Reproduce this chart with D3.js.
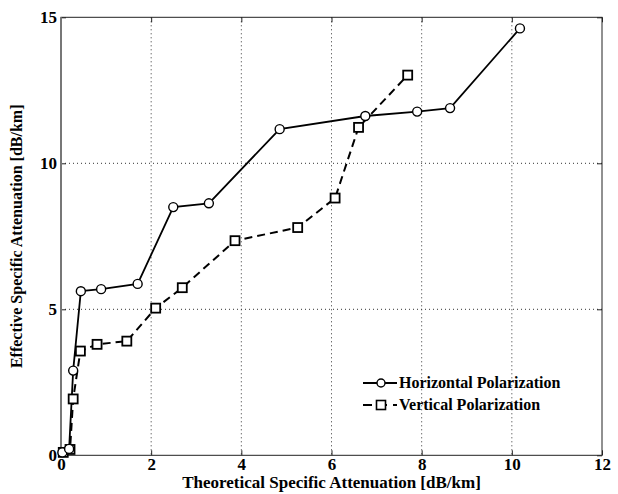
<!DOCTYPE html>
<html><head><meta charset="utf-8">
<script src="https://cdn.jsdelivr.net/npm/d3@7"></script>
<style>body{margin:0;background:#fff}svg{display:block}</style>
</head><body><svg id="c" width="618" height="494"></svg>
<script>
const xTicks=[0,2,4,6,8,10,12];
const yTicks=[0,5,10,15];
const horizX=[0.03,0.18,0.27,0.44,0.89,1.70,2.49,3.28,4.85,6.75,7.90,8.63,10.18];
const horizY=[0.10,0.22,2.90,5.62,5.69,5.87,8.50,8.63,11.17,11.62,11.77,11.89,14.62];
const vertX=[0.05,0.20,0.27,0.43,0.80,1.46,2.10,2.69,3.86,5.25,6.08,6.60,7.69];
const vertY=[0.10,0.20,1.93,3.57,3.80,3.91,5.04,5.74,7.35,7.80,8.81,11.23,13.02];
const seriesNames=["Horizontal Polarization","Vertical Polarization"];
const xLabel="Theoretical Specific Attenuation [dB/km]";
const yLabel="Effective Specific Attenuation [dB/km]";

const svg=d3.select("#c");
const L=61,R=602,T=17.3,B=455.3;
const x=d3.scaleLinear().domain([0,12]).range([L,R]);
const y=d3.scaleLinear().domain([0,15]).range([B,T]);
const font='"Liberation Serif","Times New Roman",serif';

// grid
const g=svg.append("g");
xTicks.slice(1,-1).forEach(t=>g.append("line").attr("x1",x(t)).attr("x2",x(t)).attr("y1",T).attr("y2",B)
  .attr("stroke","#333").attr("stroke-width",1).attr("stroke-dasharray","1,3"));
yTicks.slice(1,-1).forEach(t=>g.append("line").attr("y1",y(t)).attr("y2",y(t)).attr("x1",L).attr("x2",R)
  .attr("stroke","#333").attr("stroke-width",1).attr("stroke-dasharray","1,3"));

// axes
const ax=svg.append("g").attr("transform",`translate(0,${B})`).call(d3.axisBottom(x).tickValues(xTicks).tickSizeInner(-5).tickSizeOuter(0).tickPadding(3));
const axT=svg.append("g").attr("transform",`translate(0,${T})`).call(d3.axisTop(x).tickValues(xTicks).tickSizeInner(-5).tickSizeOuter(0).tickFormat(""));
const ay=svg.append("g").attr("transform",`translate(${L},0)`).call(d3.axisLeft(y).tickValues(yTicks).tickSizeInner(-5).tickSizeOuter(0).tickPadding(4));
const ayR=svg.append("g").attr("transform",`translate(${R},0)`).call(d3.axisRight(y).tickValues(yTicks).tickSizeInner(-5).tickSizeOuter(0).tickFormat(""));
[ax,axT,ay,ayR].forEach(a=>{a.select(".domain").remove();a.selectAll("line").attr("stroke","#222");
  a.selectAll("text").attr("font-family",font).attr("font-size",17).attr("font-weight","bold").attr("fill","#000");});
svg.append("rect").attr("x",L).attr("y",T).attr("width",R-L).attr("height",B-T).attr("fill","none").attr("stroke","#222").attr("stroke-width",1);
svg.append("line").attr("x1",L).attr("x2",L).attr("y1",T).attr("y2",B).attr("stroke","#777").attr("stroke-width",2);

// labels
svg.append("text").attr("x",(L+R)/2).attr("y",488).attr("text-anchor","middle").attr("font-family",font)
  .attr("font-size",17).attr("font-weight","bold").text(xLabel);
svg.append("text").attr("transform",`translate(22,${(T+B)/2}) rotate(-90)`).attr("text-anchor","middle").attr("font-family",font)
  .attr("font-size",16).attr("font-weight","bold").text(yLabel);

// series
const line=d3.line().x(d=>x(d[0])).y(d=>y(d[1]));
const hData=horizX.map((v,i)=>[v,horizY[i]]);
const vData=vertX.map((v,i)=>[v,vertY[i]]);
svg.append("path").datum(vData).attr("d",line).attr("fill","none").attr("stroke","#000").attr("stroke-width",2).attr("stroke-dasharray","8,5");
svg.append("path").datum(hData).attr("d",line).attr("fill","none").attr("stroke","#000").attr("stroke-width",1.8);
svg.selectAll(".sq").data(vData).enter().append("rect").attr("x",d=>x(d[0])-4.5).attr("y",d=>y(d[1])-4.5)
  .attr("width",9).attr("height",9).attr("fill","#fff").attr("stroke","#000").attr("stroke-width",1.8);
svg.selectAll(".ci").data(hData).enter().append("circle").attr("cx",d=>x(d[0])).attr("cy",d=>y(d[1])).attr("r",4.5)
  .attr("fill","#fff").attr("stroke","#000").attr("stroke-width",1.4);

// legend
const lg=svg.append("g");
const ly=[383,405];
lg.append("line").attr("x1",363).attr("x2",397).attr("y1",ly[0]).attr("y2",ly[0]).attr("stroke","#000").attr("stroke-width",1.8);
lg.append("circle").attr("cx",381).attr("cy",ly[0]).attr("r",4).attr("fill","#fff").attr("stroke","#000").attr("stroke-width",1.4);
lg.append("line").attr("x1",363).attr("x2",397).attr("y1",ly[1]).attr("y2",ly[1]).attr("stroke","#000").attr("stroke-width",2).attr("stroke-dasharray","9,6");
lg.append("rect").attr("x",376.5).attr("y",ly[1]-4.5).attr("width",9).attr("height",9).attr("fill","#fff").attr("stroke","#000").attr("stroke-width",1.6);
seriesNames.forEach((n,i)=>lg.append("text").attr("x",399).attr("y",ly[i]+5).attr("font-family",font)
  .attr("font-size",16).attr("font-weight","bold").text(n));
</script></body></html>
